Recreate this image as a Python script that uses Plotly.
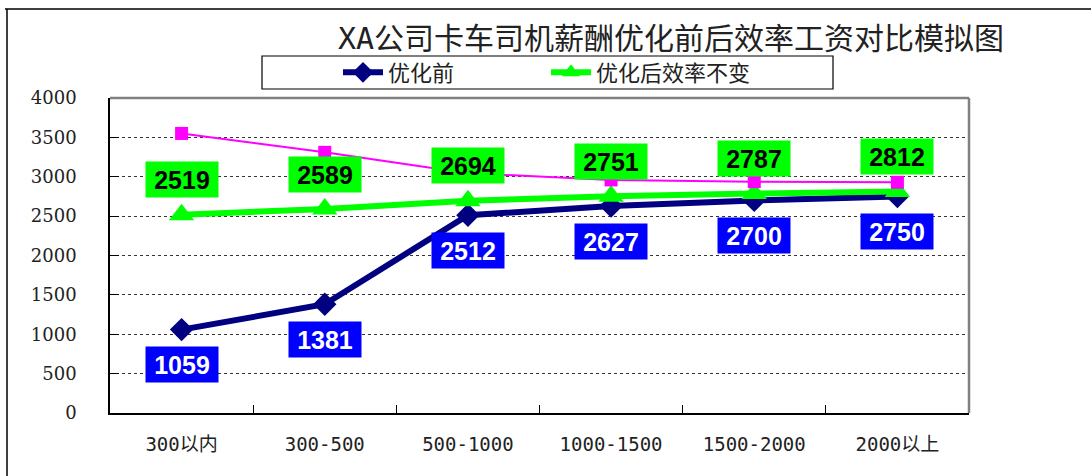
import plotly.graph_objects as go

# Salary bands (categories) and monthly pay figures
categories = ["300以内", "300-500", "500-1000", "1000-1500", "1500-2000", "2000以上"]
before_opt = [1059, 1381, 2512, 2627, 2700, 2750]          # 优化前
after_opt = [2519, 2589, 2694, 2751, 2787, 2812]           # 优化后效率不变
reference_line = [3550, 3310, 3045, 2960, 2938, 2930]     # magenta reference series
y_ticks = [0, 500, 1000, 1500, 2000, 2500, 3000, 3500, 4000]

W, H = 1091, 476
L, R, T, B = 110, 122, 98, 63
PW, PH = W - L - R, H - T - B


def px_x(x):
    return (x - L) / PW


def px_y(y):
    return (H - B - y) / PH


fig = go.Figure()

fig.add_trace(go.Scatter(
    x=categories, y=before_opt, name="优化前", mode="lines+markers",
    line=dict(color="#000080", width=6),
    marker=dict(symbol="diamond", size=18, color="#000080"),
))
fig.add_trace(go.Scatter(
    x=categories, y=after_opt, name="优化后效率不变", mode="lines+markers",
    line=dict(color="#00FF00", width=6),
    marker=dict(symbol="triangle-up", size=22, color="#00FF00"),
))
fig.add_trace(go.Scatter(
    x=categories, y=reference_line, mode="lines+markers", showlegend=False,
    line=dict(color="#FF00FF", width=2),
    marker=dict(symbol="square", size=13, color="#FF00FF"),
))

annotations = []
for c, v in zip(categories, after_opt):
    annotations.append(dict(
        x=c, y=v, xref="x", yref="y", text=str(v), showarrow=False,
        yshift=35, bgcolor="#00FF00", width=70, height=33,
        font=dict(family="Liberation Sans, Arial", size=25, color="black", weight="bold"),
    ))
for c, v in zip(categories, before_opt):
    annotations.append(dict(
        x=c, y=v, xref="x", yref="y", text=str(v), showarrow=False,
        yshift=-35, bgcolor="#0000FF", width=70, height=33,
        font=dict(family="Liberation Sans, Arial", size=25, color="white", weight="bold"),
    ))

shapes = [
    # gray top/right edges of the plot area
    dict(type="line", xref="paper", yref="paper", x0=0, x1=1, y0=1, y1=1,
         line=dict(color="#808080", width=2.5)),
    dict(type="line", xref="paper", yref="paper", x0=1, x1=1, y0=0, y1=1,
         line=dict(color="#808080", width=2.5)),
    # outer chart frame (top and left)
    dict(type="line", xref="paper", yref="paper", x0=px_x(5), x1=px_x(W), y0=px_y(9), y1=px_y(9),
         line=dict(color="black", width=1.5)),
    dict(type="line", xref="paper", yref="paper", x0=px_x(7), x1=px_x(7), y0=px_y(9), y1=px_y(H),
         line=dict(color="black", width=1.5)),
    # legend frame
    dict(type="rect", xref="paper", yref="paper", x0=px_x(262), x1=px_x(833), y0=px_y(89), y1=px_y(56),
         line=dict(color="black", width=1.2), fillcolor="rgba(0,0,0,0)"),
]

fig.update_layout(
    width=W, height=H,
    margin=dict(l=L, r=R, t=T, b=B),
    paper_bgcolor="white", plot_bgcolor="white",
    title=dict(
        text="XA公司卡车司机薪酬优化前后效率工资对比模拟图",
        x=671 / W, xref="container", xanchor="center",
        y=1 - 38 / H, yref="container", yanchor="middle",
        font=dict(family="DejaVu Sans Mono, Noto Sans CJK SC", size=30, color="#222"),
    ),
    showlegend=True,
    legend=dict(
        orientation="h", x=px_x(338), y=px_y(72.5), xanchor="left", yanchor="middle",
        xref="paper", yref="paper", bgcolor="rgba(0,0,0,0)", borderwidth=0,
        entrywidth=153, entrywidthmode="pixels", itemwidth=40,
        font=dict(family="Noto Sans CJK SC", size=22, color="#222"),
    ),
    xaxis=dict(
        type="category", range=[-0.5, 5.5], showgrid=False,
        showline=True, linecolor="black", linewidth=1.5,
        ticks="inside", tickson="boundaries", ticklen=8, tickcolor="black",
        ticklabelstandoff=13,
        tickfont=dict(family="DejaVu Sans Mono, Noto Sans CJK SC", size=19, color="#222"),
        fixedrange=True,
    ),
    yaxis=dict(
        range=[0, 4000], tickvals=y_ticks, ticktext=[str(v) for v in y_ticks],
        showgrid=True, gridcolor="#333", gridwidth=1, griddash="dot",
        showline=True, linecolor="black", linewidth=1.5,
        ticks="inside", ticklen=9, tickcolor="black",
        ticklabelstandoff=28, zeroline=False,
        tickfont=dict(family="DejaVu Serif", size=18, color="#222"),
        fixedrange=True,
    ),
    annotations=annotations,
    shapes=shapes,
)

fig.write_html("out.html")
